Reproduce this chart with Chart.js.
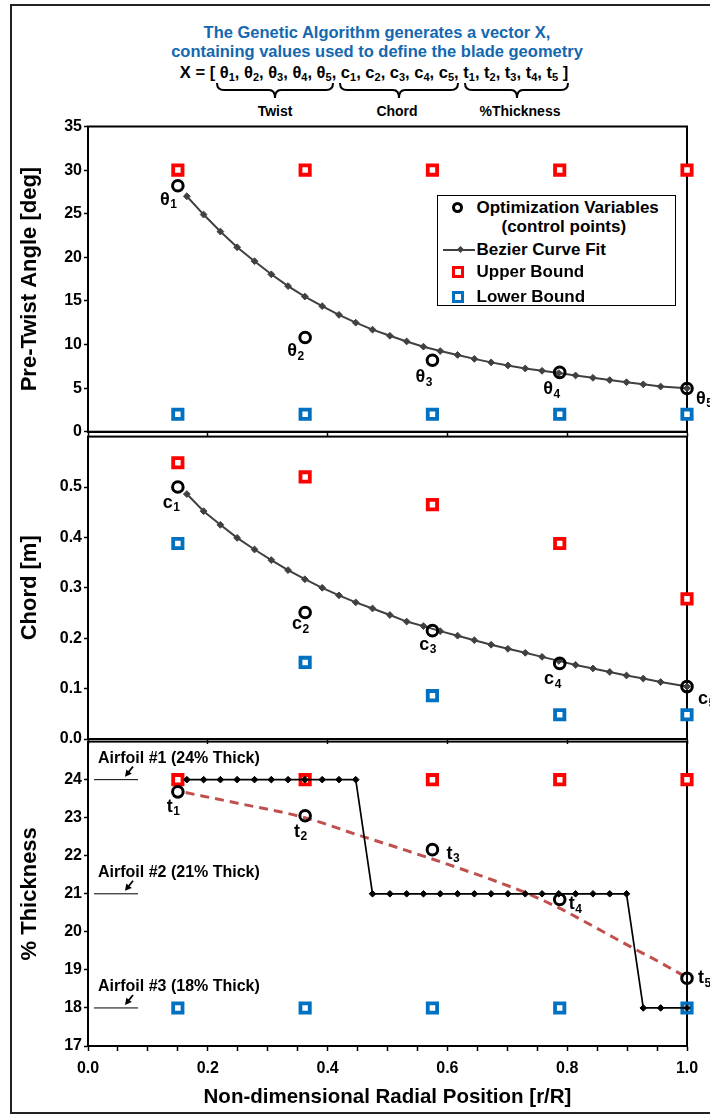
<!DOCTYPE html>
<html><head><meta charset="utf-8">
<script src="https://cdn.jsdelivr.net/npm/chart.js@4.4.1/dist/chart.umd.min.js"></script>
<style>
 html,body{margin:0;padding:0;background:#fff;}
 #page{position:relative;width:710px;height:1115px;overflow:hidden;font-family:'Liberation Sans',Arial,Helvetica,sans-serif;color:#000;}
 .abs{position:absolute;}
 canvas{position:absolute;left:0;}
 .hdr{position:absolute;text-align:center;white-space:nowrap;font-weight:bold;}
 .hdr sub{font-size:11px;vertical-align:-3px;line-height:0;}
 .lt{position:absolute;white-space:nowrap;font-weight:bold;font-size:17px;line-height:22px;}
 .blab{position:absolute;white-space:nowrap;font-weight:bold;font-size:14px;line-height:16px;transform:translateX(-50%);}
</style></head><body>
<div id="page">
 <div class="abs" style="left:10px;top:4px;width:760px;height:1106px;border:2px solid #222;"></div>

 <div class="hdr" style="left:77px;top:23px;width:600px;color:#1368B0;font-size:16.5px;line-height:19px;">The Genetic Algorithm generates a vector X,<br>containing values used to define the blade geometry</div>
 <div class="hdr" style="left:74px;top:62px;width:600px;font-size:16.5px;line-height:20px;">X = [ θ<sub>1</sub>, θ<sub>2</sub>, θ<sub>3</sub>, θ<sub>4</sub>, θ<sub>5</sub>, c<sub>1</sub>, c<sub>2</sub>, c<sub>3</sub>, c<sub>4</sub>, c<sub>5</sub>, t<sub>1</sub>, t<sub>2</sub>, t<sub>3</sub>, t<sub>4</sub>, t<sub>5</sub> ]</div>
 <svg class="abs" style="left:0;top:0" width="710" height="120">
  <g fill="none" stroke="#000" stroke-width="2">
   <path d="M217,83 Q217,90 224,90 L269,90 Q275,90 275,98 Q275,90 281,90 L326,90 Q333,90 333,83"/>
   <path d="M340,83 Q340,90 347,90 L393,90 Q399,90 399,98 Q399,90 405,90 L451,90 Q458,90 458,83"/>
   <path d="M465,83 Q465,90 472,90 L511,90 Q517,90 517,98 Q517,90 523,90 L561,90 Q568,90 568,83"/>
  </g>
 </svg>
 <div class="blab" style="left:275px;top:103px;">Twist</div>
 <div class="blab" style="left:397px;top:103px;">Chord</div>
 <div class="blab" style="left:520px;top:103px;">%Thickness</div>

 <canvas id="c1" width="710" height="335" style="top:110px"></canvas>
 <canvas id="c2" width="710" height="330" style="top:425px"></canvas>
 <canvas id="c3" width="710" height="385" style="top:730px"></canvas>

 <div class="abs" style="left:437px;top:195px;width:237px;height:109px;border:1.5px solid #000;background:#fff;">
  <div class="abs" style="left:14px;top:6px;width:5px;height:5px;border:3px solid #000;border-radius:50%;"></div>
  <div class="lt" style="left:38.5px;top:0.5px;">Optimization Variables</div>
  <div class="lt" style="left:63.5px;top:19.5px;">(control points)</div>
  <div class="abs" style="left:4.5px;top:52.5px;width:32px;height:2px;background:#404040;"></div>
  <div class="abs" style="left:20px;top:51px;width:5px;height:5px;background:#404040;transform:rotate(45deg);"></div>
  <div class="lt" style="left:38.5px;top:42.5px;">Bezier Curve Fit</div>
  <div class="abs" style="left:13.5px;top:69.5px;width:12px;height:12px;box-sizing:border-box;border:3.5px solid #FF0000;background:#fff;"></div>
  <div class="lt" style="left:38.5px;top:64.5px;">Upper Bound</div>
  <div class="abs" style="left:13.5px;top:94.5px;width:12px;height:12px;box-sizing:border-box;border:3.5px solid #0070C0;background:#fff;"></div>
  <div class="lt" style="left:38.5px;top:89.5px;">Lower Bound</div>
 </div>
</div>
<script>
// ---------- data ----------
const ctrlX = [0.15, 0.3625, 0.575, 0.7875, 1.0];

const twistCtrl  = [28.2, 10.8, 8.2, 6.8, 4.95];
const twistUpper = [30, 30, 30, 30, 30];
const twistLower = [2, 2, 2, 2, 2];

const chordCtrl  = [0.500, 0.251, 0.215, 0.150, 0.104];
const chordUpper = [0.548, 0.520, 0.465, 0.388, 0.278];
const chordLower = [0.388, 0.152, 0.086, 0.048, 0.048];

const thickCtrl  = [23.68, 23.05, 22.16, 20.85, 18.78];
const thickUpper = [24, 24, 24, 24, 24];
const thickLower = [18, 18, 18, 18, 18];

const curveX = [0.165, 0.193, 0.221, 0.249, 0.278, 0.306, 0.334, 0.362, 0.391, 0.419,
                0.447, 0.475, 0.504, 0.532, 0.560, 0.588, 0.617, 0.645, 0.673, 0.701,
                0.730, 0.758, 0.786, 0.814, 0.843, 0.871, 0.899, 0.927, 0.956, 1.000];
const twistCurve = [27.0, 24.9, 22.95, 21.15, 19.55, 18.05, 16.7, 15.5, 14.4, 13.4,
                    12.5, 11.7, 11.0, 10.35, 9.75, 9.25, 8.8, 8.35, 7.95, 7.6,
                    7.25, 6.98, 6.72, 6.45, 6.18, 5.92, 5.67, 5.43, 5.18, 4.98];
const chordCurve = [0.486, 0.452, 0.425, 0.399, 0.376, 0.355, 0.335, 0.317, 0.300, 0.285,
                    0.271, 0.259, 0.246, 0.233, 0.224, 0.214, 0.205, 0.196, 0.187, 0.179,
                    0.171, 0.163, 0.155, 0.147, 0.140, 0.133, 0.126, 0.120, 0.113, 0.104];
const thickStep  = [24, 24, 24, 24, 24, 24, 24, 24, 24, 24,
                    24, 21, 21, 21, 21, 21, 21, 21, 21, 21,
                    21, 21, 21, 21, 21, 21, 21, 18, 18, 18];

const fitX     = [0.163, 0.25, 0.362, 0.45, 0.535, 0.62, 0.724, 0.786, 0.85, 0.908, 0.95, 1.0];
const thickFit = [23.66, 23.38, 23.0, 22.55, 22.12, 21.67, 21.07, 20.63, 20.09, 19.59, 19.24, 18.8];

const airfoilLevels = [24, 21, 18];
const airfoilNames  = ['Airfoil #1 (24% Thick)', 'Airfoil #2 (21% Thick)', 'Airfoil #3 (18% Thick)'];

const xTickLabels = ['0.0', '0.2', '0.4', '0.6', '0.8', '1.0'];

// ---------- helpers ----------
const FF = "'Liberation Sans', Arial, Helvetica, sans-serif";
Chart.defaults.font.family = FF;
Chart.defaults.color = '#000';

function pts(xs, ys) { return xs.map((x, i) => ({ x: x, y: ys[i] })); }

function ctrlDs(vals) {
  return { data: pts(ctrlX, vals), showLine: false, pointStyle: 'circle', pointRadius: 5.3,
    pointBorderWidth: 3, pointBorderColor: '#000', pointBackgroundColor: 'rgba(0,0,0,0)',
    borderColor: '#000', clip: false, order: 0 };
}
function curveDs(xs, vals, color, lw) {
  return { data: pts(xs, vals), showLine: true, borderColor: color, borderWidth: lw,
    pointStyle: 'rectRot', pointRadius: 3.4, pointBorderWidth: 1, pointBorderColor: color,
    pointBackgroundColor: color, clip: false, order: 1 };
}
function boundDs(vals, color) {
  return { data: pts(ctrlX, vals), showLine: false, pointStyle: 'rect', pointRadius: 6.6,
    pointBorderWidth: 3.8, pointBorderColor: color, pointBackgroundColor: '#fff',
    borderColor: color, clip: false, order: 2 };
}

function xScale(showLabels, h) {
  return {
    type: 'linear', min: 0, max: 1,
    ticks: {
      display: showLabels, stepSize: showLabels ? 0.05 : 0.2, autoSkip: false, maxRotation: 0,
      padding: 8, font: { size: 16, weight: 'bold' }, color: '#000',
      callback: function (v) {
        const k = Math.round(v * 5);
        return Math.abs(v * 5 - k) < 1e-6 ? xTickLabels[k] : '';
      }
    },
    grid: { drawOnChartArea: false, drawTicks: true, tickLength: 5, tickColor: '#000', tickWidth: 1.5 },
    border: { display: true, color: '#000', width: 2 },
    title: showLabels ? { display: true, text: 'Non-dimensional Radial Position [r/R]',
      font: { size: 20.5, weight: 'bold' }, color: '#000', padding: { top: 0, bottom: 5 } } : { display: false },
    afterFit: function (s) { s.height = h; }
  };
}
function yScale(min, max, step, title, digits, hideMax) {
  return {
    type: 'linear', min: min, max: max,
    ticks: {
      stepSize: step, autoSkip: false, padding: 2, font: { size: 16, weight: 'bold' }, color: '#000',
      callback: function (v) {
        if (hideMax && Math.abs(v - max) < 1e-9) return null;
        return v.toFixed(digits);
      }
    },
    grid: { drawOnChartArea: false, drawTicks: true, tickLength: 4, tickColor: '#000', tickWidth: 1.5 },
    border: { display: true, color: '#000', width: 2 },
    title: { display: true, text: title, font: { size: 22, weight: 'bold' }, color: '#000',
      padding: { top: 17, bottom: 0 } },
    afterFit: function (s) { s.width = 88; }
  };
}

const frame = {
  id: 'frame',
  beforeDatasetsDraw(chart) {
    const { ctx, chartArea: a } = chart;
    ctx.save();
    ctx.strokeStyle = '#000'; ctx.lineWidth = 2;
    ctx.strokeRect(a.left, a.top, a.right - a.left, a.bottom - a.top);
    ctx.restore();
  }
};

const ctrlLabels = {
  id: 'ctrlLabels',
  afterDatasetsDraw(chart, args, o) {
    const { ctx } = chart; const xs = chart.scales.x, ys = chart.scales.y;
    ctx.save();
    ctx.fillStyle = '#000'; ctx.textBaseline = 'middle'; ctx.textAlign = 'left';
    ctrlX.forEach(function (xv, i) {
      const off = o.offsets[i];
      const px = xs.getPixelForValue(xv) + off[0];
      const py = ys.getPixelForValue(o.values[i]) + off[1];
      const sub = String(i + 1);
      ctx.font = 'bold 18px ' + FF; const w1 = ctx.measureText(o.symbol).width;
      ctx.font = 'bold 12px ' + FF; const w2 = ctx.measureText(sub).width;
      const total = w1 + w2 + 0.5;
      const left = off[2] === 'r' ? px - total : (off[2] === 'c' ? px - total / 2 : px);
      ctx.font = 'bold 18px ' + FF; ctx.fillText(o.symbol, left, py);
      ctx.font = 'bold 12px ' + FF; ctx.fillText(sub, left + w1 + 0.5, py + 5);
    });
    ctx.restore();
  }
};

const airfoilNotes = {
  id: 'airfoilNotes',
  afterDatasetsDraw(chart) {
    const { ctx, chartArea } = chart; const ys = chart.scales.y;
    const x0 = chartArea.left;
    ctx.save();
    airfoilLevels.forEach(function (lv, i) {
      const py = ys.getPixelForValue(lv);
      ctx.strokeStyle = '#000'; ctx.fillStyle = '#000';
      ctx.lineWidth = 1;
      ctx.beginPath(); ctx.moveTo(x0 + 6, py); ctx.lineTo(x0 + 50, py); ctx.stroke();
      const sx = x0 + 45, sy = py - 13, tx = x0 + 37, ty = py - 3;
      const dx = tx - sx, dy = ty - sy, L = Math.hypot(dx, dy), ux = dx / L, uy = dy / L;
      ctx.lineWidth = 1.8;
      ctx.beginPath(); ctx.moveTo(sx, sy); ctx.lineTo(tx - ux * 3, ty - uy * 3); ctx.stroke();
      const bx = tx - ux * 6.5, by = ty - uy * 6.5;
      ctx.beginPath(); ctx.moveTo(tx, ty);
      ctx.lineTo(bx - uy * 3.5, by + ux * 3.5); ctx.lineTo(bx + uy * 3.5, by - ux * 3.5); ctx.closePath(); ctx.fill();
      ctx.font = 'bold 16px ' + FF; ctx.textBaseline = 'middle'; ctx.textAlign = 'left';
      ctx.fillText(airfoilNames[i], x0 + 10, py - 21);
    });
    ctx.restore();
  }
};

function baseOptions(xS, yS, padTop, labelCfg) {
  return {
    responsive: false, animation: false, events: [],
    layout: { padding: { top: padTop, right: 23, bottom: 0, left: 0 } },
    scales: { x: xS, y: yS },
    plugins: { legend: { display: false }, tooltip: { enabled: false }, ctrlLabels: labelCfg }
  };
}

// ---------- charts ----------
new Chart(document.getElementById('c1'), {
  type: 'scatter',
  data: { datasets: [
    ctrlDs(twistCtrl),
    curveDs(curveX, twistCurve, '#404040', 2),
    boundDs(twistUpper, '#FF0000'),
    boundDs(twistLower, '#0070C0')
  ] },
  options: baseOptions(xScale(false, 13.3), yScale(0, 35, 5, 'Pre-Twist Angle [deg]', 0, false), 16.5,
    { symbol: 'θ', values: twistCtrl,
      offsets: [[-1, 14, 'r'], [-1, 14, 'r'], [0, 17, 'r'], [-8, 17, 'c'], [9, 10, 'l']] }),
  plugins: [frame, ctrlLabels]
});

new Chart(document.getElementById('c2'), {
  type: 'scatter',
  data: { datasets: [
    ctrlDs(chordCtrl),
    curveDs(curveX, chordCurve, '#404040', 2),
    boundDs(chordUpper, '#FF0000'),
    boundDs(chordLower, '#0070C0')
  ] },
  options: baseOptions(xScale(false, 16), yScale(0, 0.6, 0.1, 'Chord [m]', 1, true), 6.7,
    { symbol: 'c', values: chordCtrl,
      offsets: [[2, 16, 'r'], [4, 12, 'r'], [4, 14, 'r'], [-7, 16, 'c'], [11, 12, 'l']] }),
  plugins: [frame, ctrlLabels]
});

const stepDs = curveDs(curveX, thickStep, '#000', 1.7);
stepDs.pointRadius = 3.3;
new Chart(document.getElementById('c3'), {
  type: 'scatter',
  data: { datasets: [
    ctrlDs(thickCtrl),
    stepDs,
    { data: pts(fitX, thickFit), showLine: true, borderColor: '#C0504D', borderWidth: 3,
      borderDash: [9, 6], pointRadius: 0, cubicInterpolationMode: 'monotone', clip: false, order: 1.5 },
    boundDs(thickUpper, '#FF0000'),
    boundDs(thickLower, '#0070C0')
  ] },
  options: baseOptions(xScale(true, 69), yScale(17, 25, 1, '% Thickness', 0, true), 9.4,
    { symbol: 't', values: thickCtrl,
      offsets: [[2, 15, 'r'], [2, 16, 'r'], [14, 4, 'l'], [9, 5, 'l'], [11, 0, 'l']] }),
  plugins: [frame, ctrlLabels, airfoilNotes]
});
</script>
</body></html>
